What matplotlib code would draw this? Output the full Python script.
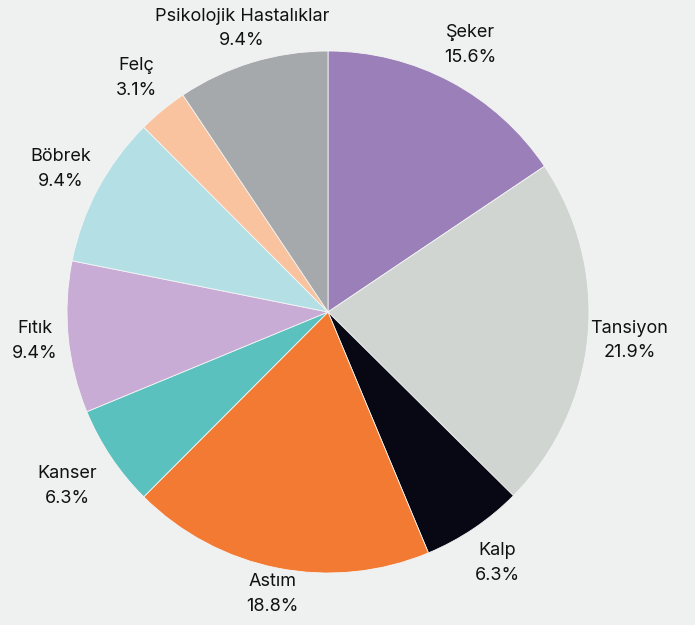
import numpy as np
import matplotlib.pyplot as plt

# data (clockwise from top)
labels = ['Şeker', 'Tansiyon', 'Kalp', 'Astım', 'Kanser', 'Fıtık', 'Böbrek', 'Felç',
          'Psikolojik Hastalıklar']
values = [15.6, 21.9, 6.3, 18.8, 6.3, 9.4, 9.4, 3.1, 9.4]
colors = ['#9b7fb8', '#d0d5d2', '#080814', '#f27a33', '#5ac1be', '#c9acd5', '#b4e0e5',
          '#f9c39f', '#a6a9ab']

plt.rcParams['font.family'] = ['Inter', 'DejaVu Sans']
bg = '#eff1f0'

fig = plt.figure(figsize=(6.95, 6.25), dpi=100, facecolor=bg)
W, H = 695, 625
cx, cy, r = 328, 312, 261
ax = fig.add_axes([(cx - r) / W, (H - cy - r) / H, 2 * r / W, 2 * r / H])
ax.set_facecolor(bg)

text_labels = [f'{l}\n{v:.1f}%' for l, v in zip(labels, values)]
wedges, texts = ax.pie(values, labels=text_labels, colors=colors, startangle=90,
                       counterclock=False, labeldistance=1.16,
                       wedgeprops=dict(edgecolor='#f4f5f5', linewidth=0.6),
                       textprops=dict(fontsize=13, color='#111111', linespacing=1.6))
# label distance tweaks to follow the reference layout
dist = {'Astım': 1.10, 'Kanser': 1.20, 'Fıtık': 1.13, 'Psikolojik Hastalıklar': 1.135}
for t, lab in zip(texts, labels):
    t.set_ha('center')
    t.set_va('center')
    if lab in dist:
        x, y = t.get_position()
        f = dist[lab] / 1.16
        t.set_position((x * f, y * f))
ax.set_xlim(-1, 1)
ax.set_ylim(-1, 1)

fig.savefig('out.png', dpi=100, facecolor=bg)
